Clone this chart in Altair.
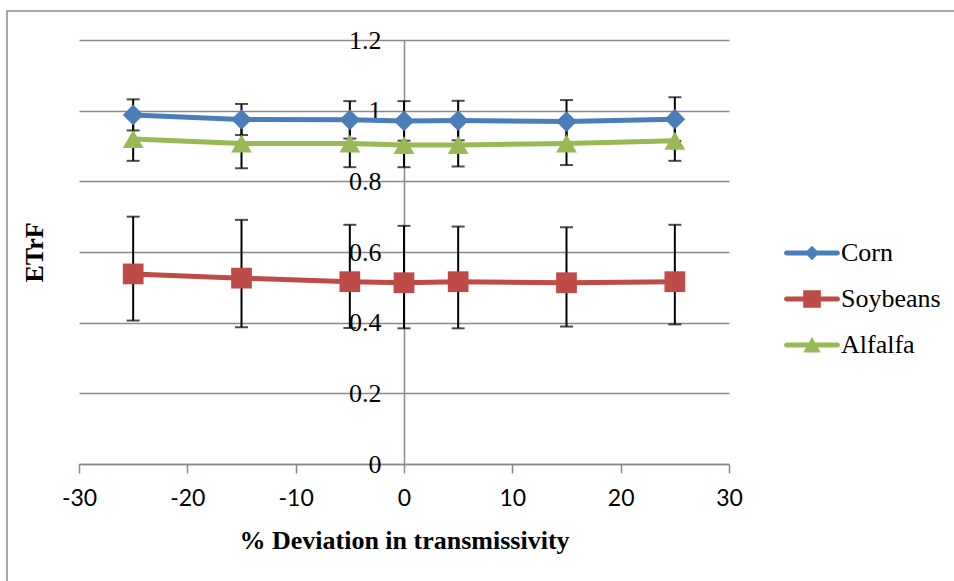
import altair as alt
import pandas as pd

# % deviation in transmissivity (x positions of each run)
deviation = [-25, -15, -5, 0, 5, 15, 25]
series_names = ["Corn", "Soybeans", "Alfalfa"]
series_colors = ["#4A7EBB", "#BE4B48", "#98B954"]

# mean ETrF per crop and the ends of its error bar
corn_etrf = [0.988, 0.975, 0.974, 0.971, 0.972, 0.969, 0.976]
corn_low = [0.944, 0.931, 0.921, 0.915, 0.916, 0.908, 0.914]
corn_high = [1.032, 1.019, 1.027, 1.027, 1.028, 1.030, 1.038]

soy_etrf = [0.538, 0.526, 0.516, 0.513, 0.516, 0.513, 0.516]
soy_low = [0.406, 0.387, 0.385, 0.384, 0.384, 0.389, 0.395]
soy_high = [0.700, 0.691, 0.677, 0.674, 0.672, 0.670, 0.677]

alfalfa_etrf = [0.920, 0.907, 0.907, 0.903, 0.903, 0.907, 0.915]
alfalfa_low = [0.858, 0.837, 0.840, 0.840, 0.842, 0.846, 0.858]
alfalfa_high = [0.982, 0.977, 0.974, 0.966, 0.964, 0.968, 0.972]

y_ticks = [0, 0.2, 0.4, 0.6, 0.8, 1.0, 1.2]
x_ticks = [-30, -20, -10, 0, 10, 20, 30]

rows = []
for name, mean, lo, hi in [
    ("Corn", corn_etrf, corn_low, corn_high),
    ("Soybeans", soy_etrf, soy_low, soy_high),
    ("Alfalfa", alfalfa_etrf, alfalfa_low, alfalfa_high),
]:
    for d, m, a, b in zip(deviation, mean, lo, hi):
        rows.append({"series": name, "deviation": d, "etrf": m, "low": a, "high": b})
df = pd.DataFrame(rows)

GRID = "#8a8a8a"
SERIF = "Liberation Serif"

x_scale = alt.Scale(domain=[-30, 30], nice=False, zero=False)
y_scale = alt.Scale(domain=[0, 1.2], nice=False)

x_axis = alt.Axis(
    values=x_ticks, labelExpr="'' + datum.value", grid=False,
    domainColor=GRID, domainWidth=1.5,
    tickColor=GRID, tickWidth=1.5, tickSize=9,
    labelFont="Lato", labelFontSize=23, labelColor="black",
    labelPadding=14, labelFlush=False, labelOverlap=False,
    title="% Deviation in transmissivity", titleFont=SERIF,
    titleFontSize=26, titleFontWeight="bold", titleColor="black",
    titleX=325, titleY=84, titleAlign="center", titleBaseline="alphabetic",
)
y_axis = alt.Axis(
    orient="left", offset=-325, values=y_ticks, format="~g",
    grid=True, gridColor=GRID, gridWidth=1.5,
    domainColor=GRID, domainWidth=1.5, ticks=False,
    labelFont=SERIF, labelFontSize=26, labelColor="black",
    labelPadding=23, labelOverlap=False,
    title="ETrF", titleFont=SERIF, titleFontSize=26,
    titleFontWeight="bold", titleColor="black", titleAngle=270,
    titleX=-362, titleY=212, titleAlign="center", titleBaseline="alphabetic",
)

def color_enc(legend=None):
    return alt.Color(
        "series:N",
        scale=alt.Scale(domain=series_names, range=series_colors),
        legend=legend,
    )

base = alt.Chart(df)

# outer frame of the chart
frame = alt.Chart(alt.Data(values=[{}])).mark_rect(
    fill="transparent", stroke=GRID, strokeWidth=1.5
).encode(
    x=alt.value(-72), x2=alt.value(900), y=alt.value(-29), y2=alt.value(620)
)

whiskers = base.mark_rule(color="black", strokeWidth=2).encode(
    x=alt.X("deviation:Q", scale=x_scale, axis=x_axis),
    y=alt.Y("low:Q", scale=y_scale, axis=y_axis),
    y2="high:Q",
)

caps = base.transform_fold(["low", "high"], as_=["end", "value"]).mark_tick(
    color="black", orient="horizontal", size=13, thickness=2
).encode(
    x=alt.X("deviation:Q", scale=x_scale, axis=x_axis),
    y=alt.Y("value:Q", scale=y_scale, axis=y_axis),
    detail="series:N",
)

lines = base.mark_line(strokeWidth=5).encode(
    x=alt.X("deviation:Q", scale=x_scale, axis=x_axis),
    y=alt.Y("etrf:Q", scale=y_scale, axis=y_axis),
    color=color_enc(),
    detail="series:N",
)

points = base.mark_point(filled=True, opacity=1).encode(
    x=alt.X("deviation:Q", scale=x_scale, axis=x_axis),
    y=alt.Y("etrf:Q", scale=y_scale, axis=y_axis),
    color=color_enc(),
    shape=alt.Shape(
        "series:N",
        scale=alt.Scale(domain=series_names, range=["diamond", "square", "triangle-up"]),
        legend=None,
    ),
    size=alt.Size(
        "series:N",
        scale=alt.Scale(domain=series_names, range=[430, 430, 450]),
        legend=None,
    ),
)

# legend symbols: a line segment with the series marker on top
seg = "M-2.55,-0.24H2.55A0.24,0.24,0,0,1,2.55,0.24H-2.55A0.24,0.24,0,0,1,-2.55,-0.24Z"
legend_paths = [
    seg + "M0,-0.72L0.72,0L0,0.72L-0.72,0Z",
    seg + "M-0.88,-0.88H0.88V0.88H-0.88Z",
    seg + "M0,-0.8L0.88,0.75L-0.88,0.75Z",
]
legend = alt.Legend(
    title=None, orient="none", legendX=720, legendY=200, padding=0,
    labelFont=SERIF, labelFontSize=26, labelColor="black",
    labelOffset=16, rowPadding=20, symbolSize=400, symbolStrokeWidth=0,
    labelLimit=300,
)
key = base.transform_filter("false").mark_point(filled=True, opacity=1, size=400).encode(
    color=color_enc(legend),
    shape=alt.Shape(
        "series:N",
        scale=alt.Scale(domain=series_names, range=legend_paths),
        legend=legend,
    ),
)

chart = (
    alt.layer(frame, whiskers, caps, lines, points, key)
    .resolve_scale(color="independent", shape="independent", size="independent")
    .properties(
        width=650,
        height=424,
        padding={"left": 79, "top": 40, "right": 225, "bottom": 117},
        autosize=alt.AutoSizeParams(type="none"),
        background="white",
    )
    .configure_view(stroke=None)
    .configure_legend(labelFont=SERIF, labelFontSize=26, labelColor="black")
)

chart.save("out.html", embed_options={"renderer": "svg", "actions": False})
